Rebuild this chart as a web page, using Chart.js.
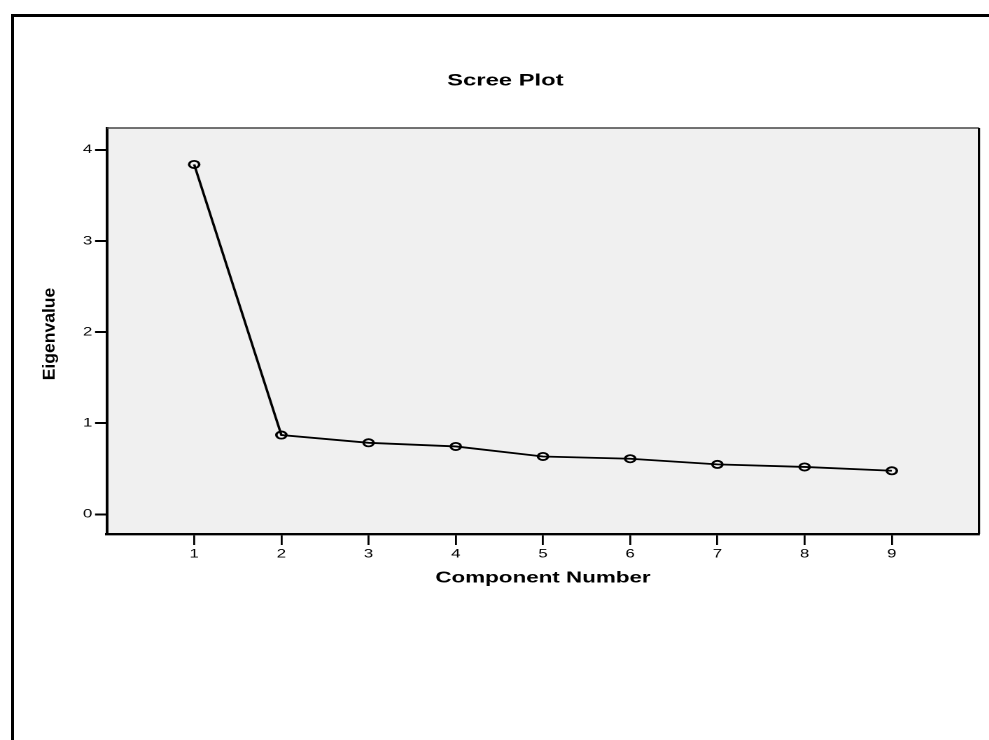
<!DOCTYPE html>
<html>
<head>
<meta charset="utf-8">
<script src="https://cdn.jsdelivr.net/npm/chart.js@4"></script>
<style>
    html, body { margin: 0; padding: 0; background: #fff; overflow: hidden; width: 989px; height: 740px; }
    #frame { position: absolute; left: 11px; top: 14px; width: 2000px; height: 2000px; border: 3px solid #000; }
    /* the original picture is stretched sideways, so the chart is drawn narrow and widened */
    #wrap { position: absolute; left: 0; top: 0; width: 707px; height: 740px; transform: scaleX(1.4); transform-origin: 0 0; }
</style>
</head>
<body>
<div id="frame"></div>
<div id="wrap"><canvas id="screeChart"></canvas></div>
<script>
// values
const componentNumbers = [1, 2, 3, 4, 5, 6, 7, 8, 9];
const eigenvalues = [3.84, 0.87, 0.785, 0.745, 0.635, 0.61, 0.548, 0.52, 0.478];
const xTickValues = [1, 2, 3, 4, 5, 6, 7, 8, 9];
const yTickValues = [0, 1, 2, 3, 4];

const FONT = '"Liberation Sans", Arial, sans-serif';

// grey plot background, top and right edges
const plotBox = {
    id: 'plotBox',
    beforeDraw(chart) {
        const { ctx, chartArea: a } = chart;
        ctx.save();
        ctx.fillStyle = '#f0f0f0';
        ctx.fillRect(a.left, a.top, a.right - a.left, a.bottom - a.top);
        ctx.restore();
    },
    afterDraw(chart) {
        const { ctx, chartArea: a } = chart;
        ctx.save();
        ctx.strokeStyle = '#444';
        ctx.lineWidth = 1.5;
        ctx.beginPath();
        ctx.moveTo(a.left, a.top);
        ctx.lineTo(a.right, a.top);
        ctx.stroke();
        ctx.strokeStyle = '#000';
        ctx.lineWidth = 1.6;
        ctx.beginPath();
        ctx.moveTo(a.right, a.top);
        ctx.lineTo(a.right, a.bottom);
        ctx.stroke();
        ctx.restore();
    }
};

// chart title and the y axis title
const titles = {
    id: 'titles',
    afterDraw(chart) {
        const { ctx, chartArea: a } = chart;
        ctx.save();
        ctx.fillStyle = '#000';
        ctx.textAlign = 'center';
        ctx.textBaseline = 'middle';
        ctx.font = 'bold 17px ' + FONT;
        ctx.fillText('Scree Plot', 361, 81);

        ctx.translate(35.5, (a.top + a.bottom) / 2 + 3);
        ctx.rotate(-Math.PI / 2);
        ctx.scale(1.46, 1);
        ctx.font = 'bold 12px ' + FONT;
        ctx.fillText('Eigenvalue', 0, 0);
        ctx.restore();
    }
};

const points = componentNumbers.map((c, i) => ({ x: c, y: eigenvalues[i] }));

new Chart(document.getElementById('screeChart'), {
    type: 'line',
    data: {
        datasets: [{
            data: points,
            borderColor: '#000',
            borderWidth: 1.8,
            pointStyle: 'circle',
            pointRadius: 3.6,
            pointBorderWidth: 1.8,
            pointBorderColor: '#000',
            pointBackgroundColor: 'rgba(0,0,0,0)',
            tension: 0
        }]
    },
    options: {
        responsive: true,
        maintainAspectRatio: false,
        animation: false,
        devicePixelRatio: 2,
        layout: { padding: { left: 0, top: 128, right: 7.7, bottom: 146 } },
        plugins: {
            legend: { display: false },
            tooltip: { enabled: false },
            title: { display: false }
        },
        scales: {
            x: {
                type: 'linear',
                min: 0,
                max: 10,
                afterBuildTicks: s => { s.ticks = xTickValues.map(v => ({ value: v })); },
                afterFit: s => { s.height = 60; },
                grid: { display: true, drawOnChartArea: false, drawTicks: true, tickLength: 11, color: '#000', lineWidth: 1.4 },
                border: { display: true, color: '#000', width: 2.4 },
                ticks: { color: '#000', padding: 2, maxRotation: 0, font: { family: FONT, size: 12 } },
                title: {
                    display: true,
                    text: 'Component Number',
                    color: '#000',
                    font: { family: FONT, size: 16, weight: 'bold' },
                    padding: { top: 0, bottom: 6.5 }
                }
            },
            y: {
                type: 'linear',
                min: -0.216,
                max: 4.24,
                afterBuildTicks: s => { s.ticks = yTickValues.map(v => ({ value: v })); },
                afterFit: s => { s.width = 76.4; },
                grid: { display: true, drawOnChartArea: false, drawTicks: true, tickLength: 8.5, color: '#000', lineWidth: 2 },
                border: { display: true, color: '#000', width: 2 },
                ticks: { color: '#000', padding: 2, font: { family: FONT, size: 12 } },
                title: { display: false }
            }
        }
    },
    plugins: [plotBox, titles]
});
</script>
</body>
</html>
